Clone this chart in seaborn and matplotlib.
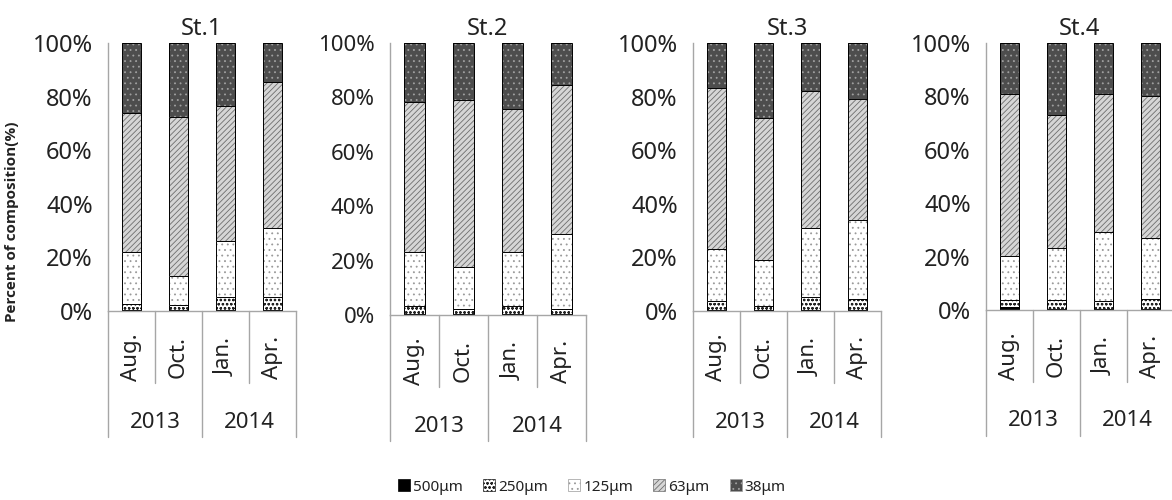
import numpy as np
import pandas as pd
import matplotlib
matplotlib.use("Agg")
import matplotlib.pyplot as plt
import seaborn as sns
from matplotlib.patches import Patch
from matplotlib.lines import Line2D

months = ["Aug.", "Oct.", "Jan.", "Apr."]
years = ["2013", "2014"]
sizes = ["500μm", "250μm", "125μm", "63μm", "38μm"]
stations = ["St.1", "St.2", "St.3", "St.4"]

# percent of each size fraction, rows = sizes, columns = months
st1 = [[0.3, 0.2, 0.4, 0.4],
       [2.2, 2.1, 4.9, 4.9],
       [19.4, 10.7, 20.7, 25.7],
       [51.9, 59.5, 50.5, 54.3],
       [26.2, 27.5, 23.5, 14.7]]
st2 = [[0.3, 0.2, 0.3, 0.2],
       [3.0, 1.9, 3.0, 1.9],
       [19.9, 15.5, 19.9, 27.6],
       [55.2, 61.6, 52.6, 54.7],
       [21.6, 20.8, 24.2, 15.6]]
st3 = [[0.3, 0.2, 0.3, 0.3],
       [3.4, 1.8, 4.9, 4.3],
       [19.6, 17.2, 25.6, 29.2],
       [60.0, 52.8, 51.2, 45.2],
       [16.7, 28.0, 18.0, 21.0]]
st4 = [[1.0, 0.2, 0.2, 0.3],
       [2.9, 3.7, 3.1, 3.8],
       [16.5, 19.5, 26.0, 22.9],
       [60.4, 49.6, 51.5, 53.3],
       [19.2, 27.0, 19.2, 19.7]]
station_data = [st1, st2, st3, st4]

sns.set_style("white")
plt.rcParams["font.family"] = ["Noto Sans", "DejaVu Sans"]
plt.rcParams["hatch.linewidth"] = 0.6

# fill colour, hatch, hatch colour
styles = {
    "500μm": ("black", "", "black"),
    "250μm": ("white", "oooo", "#222222"),
    "125μm": ("white", "...", "#9a9a9a"),
    "63μm": ("#d6d6d6", "//////", "#6e6e6e"),
    "38μm": ("#4d4d4d", "...", "#a0a0a0"),
}

W, H = 1172, 500
# panel boxes in pixels: left, right, top, bottom
panels = [(108, 296, 43, 311), (390, 586, 43, 315),
          (693, 881, 43, 311), (986, 1174, 43, 310)]
tick_sizes = [17, 16, 17, 17]
axis_col = "#a6a6a6"
text_col = "#222222"

fig = plt.figure(figsize=(W / 100, H / 100), dpi=100)

for name, data, (l, r, t, b), tsz in zip(stations, station_data, panels, tick_sizes):
    ax = fig.add_axes([l / W, 1 - b / H, (r - l) / W, (b - t) / H])
    df = pd.DataFrame(np.array(data).T, columns=sizes)
    df["month"] = months
    cum = df[sizes].cumsum(axis=1)
    cum["month"] = months

    # draw cumulative bars from the top layer down
    for s in sizes[::-1]:
        fc, h, hc = styles[s]
        sns.barplot(data=cum, x="month", y=s, order=months, ax=ax, color=fc,
                    saturation=1, width=0.42, hatch=h, edgecolor=hc,
                    linewidth=0, errorbar=None)
        sns.barplot(data=cum, x="month", y=s, order=months, ax=ax, fill=False,
                    color="black", width=0.42, linewidth=0.7, errorbar=None)

    ax.set_xlim(-0.5, 3.5)
    ax.set_ylim(0, 100)
    ax.set_yticks(range(0, 101, 20))
    ax.set_yticklabels([f"{v}%" for v in range(0, 101, 20)])
    ax.set_xticks([])
    ax.set_xlabel("")
    ax.set_ylabel("")
    for sp in ["top", "right"]:
        ax.spines[sp].set_visible(False)
    for sp in ["left", "bottom"]:
        ax.spines[sp].set_color(axis_col)
        ax.spines[sp].set_linewidth(1.0)
    ax.tick_params(axis="y", direction="out", length=7, color=axis_col,
                   labelsize=tsz, labelcolor=text_col, pad=4)
    ax.set_title(name, fontsize=17, color=text_col, pad=6)

    hpx = b - t
    trans = ax.get_xaxis_transform()
    # month labels
    for i, m in enumerate(months):
        ax.text(i, -46 / hpx, m, transform=trans, rotation=90, ha="center",
                va="center", fontsize=16, color=text_col)
    # year labels
    for j, y in enumerate(years):
        ax.text(2 * j + 0.5, -111 / hpx, y, transform=trans, ha="center",
                va="center", fontsize=16, color=text_col)
    # category separators
    for xs in [-0.5, 0.5, 1.5, 2.5, 3.5]:
        depth = 126 if xs in (-0.5, 1.5, 3.5) else 72
        ax.add_line(Line2D([xs, xs], [0, -depth / hpx], transform=trans,
                           color=axis_col, lw=1.0, clip_on=False))

fig.text(12 / W, 1 - 222 / H, "Percent of composition(%)", rotation=90,
         ha="center", va="center", fontsize=11, fontweight="bold",
         family=["Open Sans", "DejaVu Sans"], color=text_col)

handles = [Patch(facecolor=styles[s][0], hatch=styles[s][1],
                 edgecolor=styles[s][2], linewidth=0.5) for s in sizes]
fig.legend(handles, sizes, loc="center", bbox_to_anchor=(592 / W, 1 - 487 / H),
           ncol=5, frameon=False, fontsize=11, handlelength=0.8,
           handleheight=0.8, handletextpad=0.2, columnspacing=1.3,
           labelcolor=text_col)

fig.savefig("out.png", dpi=100)
